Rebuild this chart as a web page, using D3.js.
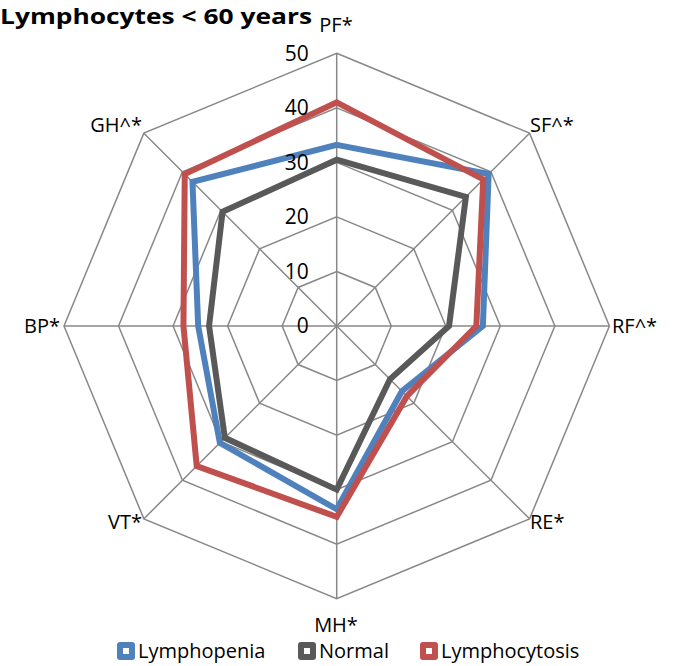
<!DOCTYPE html>
<html>
<head>
<meta charset="utf-8">
<script src="https://cdn.jsdelivr.net/npm/d3@7"></script>
<style>
  body { margin: 0; background: #fff; }
  text { font-family: "Open Sans", "Noto Sans", sans-serif; fill: #000; }
</style>
</head>
<body>
<div id="chart"></div>
<script>
// Axes (clockwise from top) and values
const axes = ["PF*", "SF^*", "RF^*", "RE*", "MH*", "VT*", "BP*", "GH^*"];
const lymphopenia = [33.2, 39.4, 26.8, 16.9, 33.6, 30.3, 25.4, 37.4];
const normal = [30.5, 33.5, 20.6, 13.8, 30.0, 29.0, 23.4, 29.6];
const lymphocytosis = [41.0, 38.0, 25.6, 18.2, 35.0, 36.3, 28.1, 39.4];
const ticks = [0, 10, 20, 30, 40, 50];
const seriesNames = ["Lymphopenia", "Normal", "Lymphocytosis"];
const seriesColors = ["#4F81BD", "#595959", "#C0504D"];

const width = 673, height = 666;
const cx = 336.7, cy = 326;
const radius = 272.7;

const svg = d3.select("#chart").append("svg")
    .attr("width", width)
    .attr("height", height);

const r = d3.scaleLinear().domain([0, 50]).range([0, radius]);
const angle = i => i * 2 * Math.PI / axes.length;
const pt = (v, i) => [cx + r(v) * Math.sin(angle(i)), cy - r(v) * Math.cos(angle(i))];

const g = svg.append("g");

// Grid rings (octagons)
ticks.slice(1).forEach(t => {
    g.append("path")
        .attr("d", d3.line()(axes.map((a, i) => pt(t, i))) + "Z")
        .attr("fill", "none")
        .attr("stroke", "#888")
        .attr("stroke-width", 1.5);
});

// Spokes
axes.forEach((a, i) => {
    const [x, y] = pt(50, i);
    g.append("line")
        .attr("x1", cx).attr("y1", cy)
        .attr("x2", x).attr("y2", y)
        .attr("stroke", "#888")
        .attr("stroke-width", 1.5);
});

// Series
const series = [lymphopenia, normal, lymphocytosis];
series.forEach((vals, s) => {
    g.append("path")
        .attr("d", d3.line()(vals.map((v, i) => pt(v, i))) + "Z")
        .attr("fill", "none")
        .attr("stroke", seriesColors[s])
        .attr("stroke-width", 6)
        .attr("stroke-linejoin", "miter");
});

// Tick labels along the top spoke
ticks.forEach(t => {
    g.append("text")
        .attr("x", cx - 28)
        .attr("y", cy - r(t))
        .attr("dy", "0.35em")
        .attr("text-anchor", "end")
        .style("font-size", "21px")
        .text(t);
});

// Category labels
const labelPos = [
    [336, 25, "middle"], [530, 125, "start"], [612, 326, "start"], [530, 522, "start"],
    [336, 625, "middle"], [142, 522, "end"], [60, 326, "end"], [142, 125, "end"]
];
axes.forEach((a, i) => {
    g.append("text")
        .attr("x", labelPos[i][0])
        .attr("y", labelPos[i][1])
        .attr("dy", "0.35em")
        .attr("text-anchor", labelPos[i][2])
        .style("font-size", "20px")
        .text(a);
});

// Title
svg.append("text")
    .attr("x", 0)
    .attr("y", 24)
    .attr("textLength", 312)
    .attr("lengthAdjust", "spacingAndGlyphs")
    .style("font-size", "22px")
    .style("font-weight", "bold")
    .text("Lymphocytes < 60 years");

// Legend
const legendX = [117, 298, 420];
seriesNames.forEach((name, s) => {
    const lg = svg.append("g").attr("transform", `translate(${legendX[s]},651)`);
    lg.append("rect")
        .attr("x", 0).attr("y", -9)
        .attr("width", 18).attr("height", 18)
        .attr("rx", 3)
        .attr("fill", seriesColors[s]);
    lg.append("rect")
        .attr("x", 6).attr("y", -3)
        .attr("width", 6).attr("height", 6)
        .attr("fill", "#fff");
    lg.append("text")
        .attr("x", 21)
        .attr("y", 0)
        .attr("dy", "0.35em")
        .style("font-size", "20px")
        .text(name);
});
</script>
</body>
</html>
